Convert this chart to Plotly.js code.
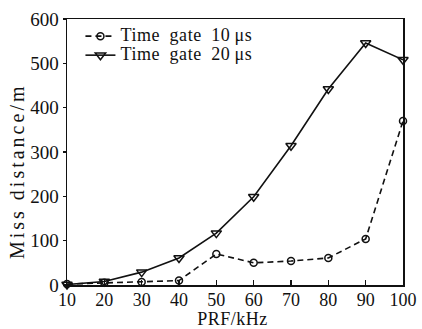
<!DOCTYPE html>
<html><head><meta charset="utf-8">
<script src="https://cdn.plot.ly/plotly-3.0.1.min.js"></script>
<style>html,body{margin:0;padding:0;background:#fff}#c{width:422px;height:329px}</style>
</head><body><div id="c"></div>
<script>
const prf = [10, 20, 30, 40, 50, 60, 70, 80, 90, 100];
const gate10 = [2, 5, 7, 10, 70, 50, 54, 61, 104, 370];
const gate20 = [1, 8, 29, 61, 117, 199, 314, 442, 546, 508];
const names = ["Time\u2009 gate\u2009 10\u2009\u03bcs", "Time\u2009 gate\u2009 20\u2009\u03bcs"];
const xTicks = [10, 20, 30, 40, 50, 60, 70, 80, 90, 100];
const yTicks = [0, 100, 200, 300, 400, 500, 600];
const xTitle = "PRF/kHz";
const yTitle = "Miss distance/m";
const F = "Liberation Serif, Times New Roman, serif";

const traces = [
  {x: prf, y: gate10, name: names[0], mode: "lines+markers", cliponaxis: false,
   line: {color: "#111", width: 1.6, dash: "6px,4px"},
   marker: {symbol: "circle-open", size: 7, color: "#111", line: {width: 1.5}}},
  {x: prf, y: gate20, name: names[1], mode: "lines+markers", cliponaxis: false,
   line: {color: "#111", width: 1.6},
   marker: {symbol: "triangle-down-open", size: 9, color: "#111", line: {width: 1.5}}}
];
const layout = {
  width: 422, height: 329,
  margin: {l: 67, r: 19, t: 19, b: 44},
  paper_bgcolor: "#fff", plot_bgcolor: "#fff",
  font: {family: F, size: 19, color: "#111"},
  showlegend: true,
  legend: {x: 0.04, y: 0.99, xanchor: "left", yanchor: "top", bgcolor: "rgba(0,0,0,0)",
           font: {family: F, size: 12, color: "#111"}, tracegroupgap: 0, itemwidth: 30},
  xaxis: {range: [10, 100], tickvals: xTicks, ticktext: xTicks.map(String),
          showgrid: false, zeroline: false, showline: true, linecolor: "#111", linewidth: 1.5,
          mirror: true, ticks: "inside", ticklen: 5, tickwidth: 1.2, tickcolor: "#111",
          ticklabelstandoff: -2, tickfont: {family: F, size: 18}},
  yaxis: {range: [0, 600], tickvals: yTicks, ticktext: yTicks.map(String),
          showgrid: false, zeroline: false, showline: true, linecolor: "#111", linewidth: 1.5,
          mirror: true, ticks: "outside", ticklen: 3, tickwidth: 1.2, tickcolor: "#111",
          tickfont: {family: F, size: 19}},
  annotations: [
    {text: yTitle, textangle: -90, xref: "paper", yref: "paper", x: -0.149, y: 0.43,
     xanchor: "center", yanchor: "middle", showarrow: false, font: {family: F, size: 20, color: "#111"}},
    {text: xTitle, xref: "paper", yref: "paper", x: 0.494, y: -0.128,
     xanchor: "center", yanchor: "middle", showarrow: false, font: {family: F, size: 18, color: "#111"}}
  ]
};
Plotly.newPlot("c", traces, layout, {displayModeBar: false, staticPlot: true}).then(() => {
  document.querySelectorAll("#c .legendtext").forEach(t => {
    t.style.fontSize = "18px";
    t.style.letterSpacing = "0.6px";
  });
  document.querySelectorAll("#c .legend [clip-path]").forEach(e => e.removeAttribute("clip-path"));
  const ann = document.querySelectorAll("#c .annotation-text");
  if (ann[0]) ann[0].style.letterSpacing = "3px";
  if (ann[1]) ann[1].style.letterSpacing = "0.5px";
});
</script></body></html>
